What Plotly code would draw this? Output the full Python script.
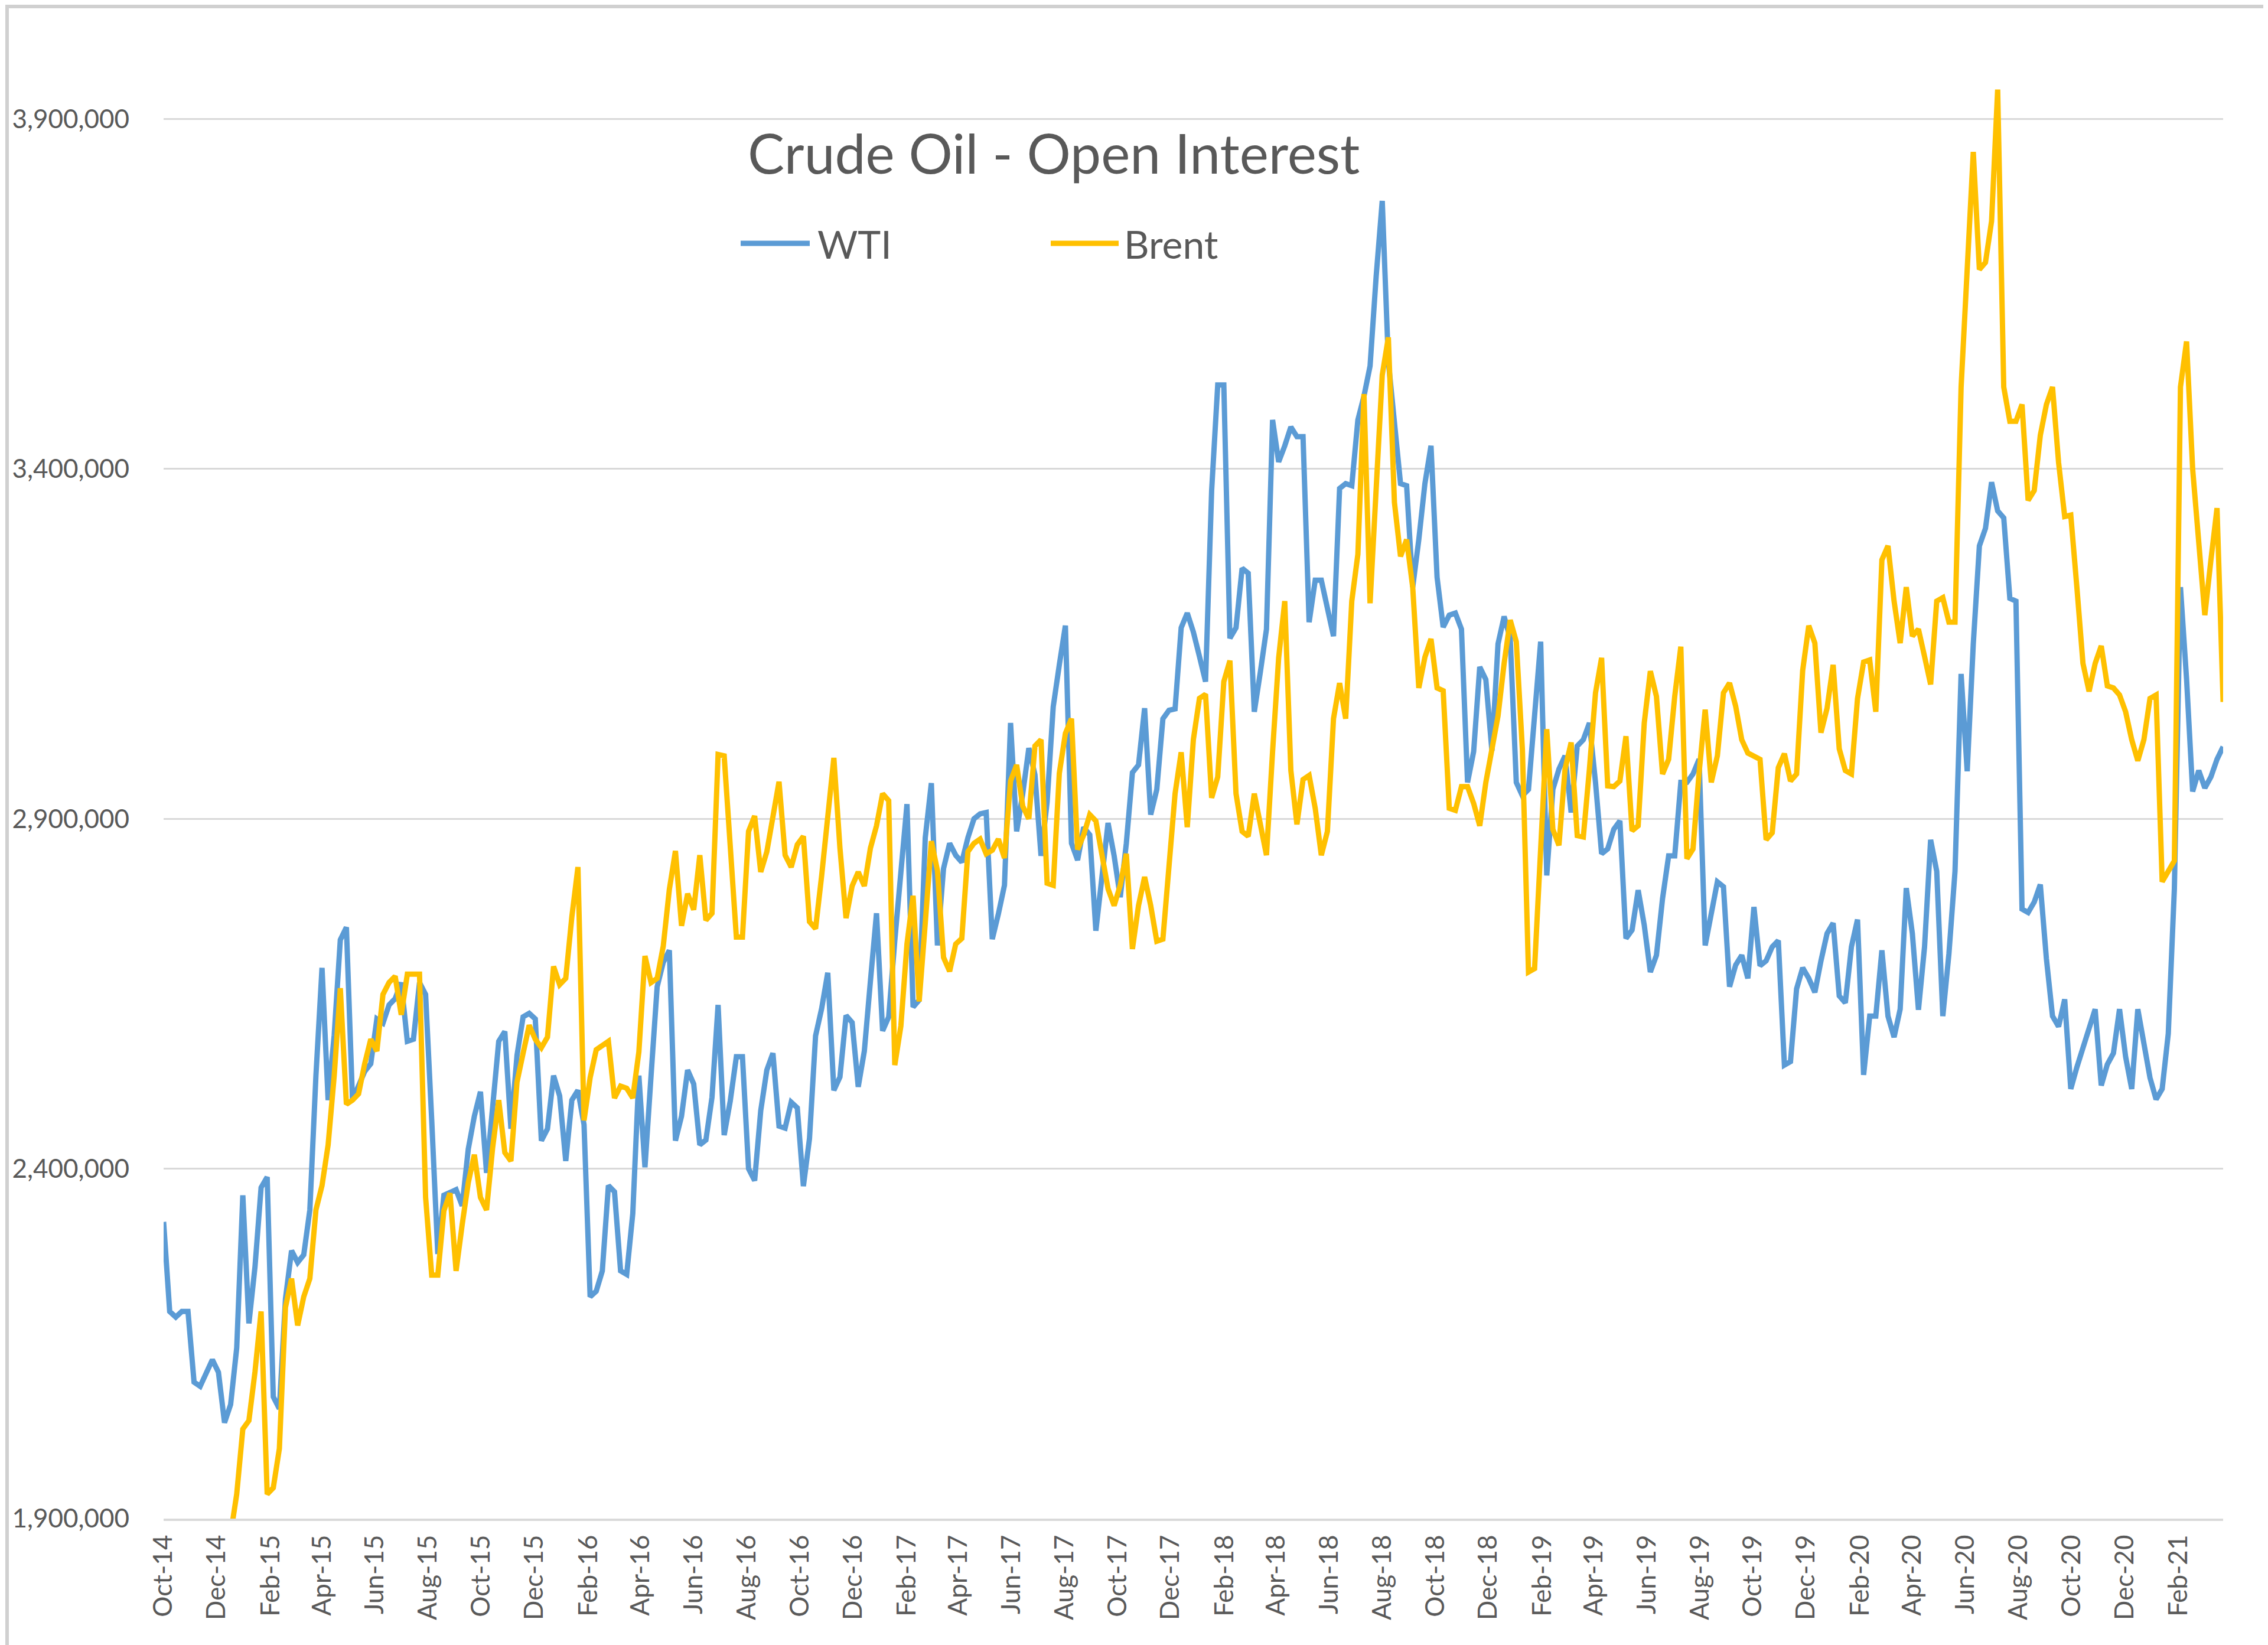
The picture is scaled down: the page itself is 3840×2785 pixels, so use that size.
import pandas as pd
import plotly.graph_objects as go

# ---------------- data (thousands of contracts, weekly from 2014-10-07) ----------------
wti_k = [
    2324, 2196, 2188, 2196, 2196, 2095, 2089, 2109, 2127, 2109,
    2037, 2063, 2144, 2362, 2179, 2260, 2373, 2388, 2074, 2057,
    2214, 2283, 2266, 2277, 2341, 2533, 2687, 2498, 2591, 2727,
    2745, 2498, 2521, 2539, 2550, 2614, 2608, 2634, 2643, 2666,
    2582, 2585, 2666, 2649, 2470, 2278, 2362, 2367, 2370, 2347,
    2428, 2475, 2510, 2394, 2486, 2582, 2596, 2457, 2562, 2617,
    2622, 2614, 2440, 2457, 2533, 2504, 2411, 2498, 2512, 2463,
    2217, 2225, 2254, 2376, 2367, 2254, 2249, 2336, 2533, 2402,
    2533, 2660, 2695, 2712, 2440, 2475, 2541, 2521, 2434, 2441,
    2502, 2634, 2448, 2497, 2560, 2560, 2400, 2383, 2483, 2541,
    2565, 2461, 2458, 2495, 2487, 2375, 2443, 2590, 2629, 2680,
    2512, 2531, 2619, 2609, 2517, 2568, 2668, 2765, 2597, 2617,
    2726, 2819, 2921, 2631, 2641, 2873, 2951, 2719, 2829, 2865,
    2848, 2838, 2873, 2900, 2907, 2909, 2728, 2764, 2805, 3037,
    2882, 2936, 3001, 2963, 2847, 2924, 3060, 3120, 3176, 2865,
    2841, 2888, 2877, 2740, 2817, 2894, 2847, 2788, 2865, 2966,
    2977, 3058, 2906, 2942, 3043, 3055, 3057, 3173, 3194, 3167,
    3132, 3096, 3369, 3520, 3520, 3158, 3173, 3258, 3251, 3053,
    3110, 3171, 3470, 3410, 3433, 3460, 3446, 3446, 3181, 3241,
    3241, 3201, 3161, 3372, 3379, 3376, 3470, 3504, 3547, 3675,
    3783, 3554, 3460, 3379, 3376, 3231, 3299, 3379, 3433, 3245,
    3174, 3191, 3194, 3171, 2952, 2996, 3117, 3099, 2997, 3150,
    3189, 3158, 2952, 2933, 2942, 3050, 3153, 2819, 2942, 2971,
    2990, 2909, 3004, 3013, 3037, 2952, 2850, 2857, 2885, 2897,
    2729, 2741, 2798, 2748, 2681, 2705, 2786, 2847, 2847, 2952,
    2952, 2964, 2985, 2719, 2767, 2810, 2803, 2660, 2691, 2705,
    2672, 2774, 2690, 2697, 2717, 2726, 2548, 2553, 2657, 2687,
    2672, 2652, 2697, 2736, 2751, 2647, 2637, 2717, 2756, 2534,
    2618, 2618, 2712, 2618, 2588, 2628, 2801, 2736, 2627, 2717,
    2870, 2825, 2618, 2707, 2825, 3107, 2968, 3150, 3290, 3315,
    3381, 3340, 3330, 3215, 3211, 2771, 2766, 2781, 2806, 2700,
    2618, 2603, 2642, 2514, 2545, 2573, 2600, 2628, 2519, 2549,
    2565, 2628, 2560, 2514, 2628, 2578, 2530, 2499, 2514, 2593,
    2800, 3231, 3100, 2939, 2969, 2944, 2960, 2985, 3003,
]

brent_k = [
    None, None, None, None, None, None, None, None, None, None,
    1820, 1880, 1935, 2028, 2040, 2110, 2196, 1935, 1944, 2000,
    2202, 2243, 2176, 2217, 2243, 2341, 2376, 2434, 2533, 2658,
    2492, 2498, 2507, 2550, 2585, 2568, 2649, 2666, 2675, 2620,
    2678, 2678, 2678, 2359, 2248, 2248, 2340, 2365, 2254, 2320,
    2380, 2420, 2359, 2341, 2430, 2498, 2423, 2411, 2524, 2565,
    2605, 2585, 2573, 2588, 2689, 2663, 2672, 2760, 2831, 2469,
    2530, 2570, 2575, 2582, 2501, 2518, 2515, 2501, 2567, 2704,
    2666, 2672, 2718, 2799, 2854, 2747, 2793, 2770, 2848, 2755,
    2765, 2992, 2990, 2869, 2731, 2731, 2882, 2904, 2824, 2853,
    2902, 2953, 2848, 2831, 2863, 2875, 2753, 2743, 2819, 2902,
    2987, 2858, 2758, 2804, 2824, 2804, 2858, 2890, 2936, 2926,
    2548, 2604, 2721, 2790, 2639, 2751, 2868, 2826, 2702, 2682,
    2721, 2729, 2853, 2865, 2871, 2850, 2855, 2871, 2844, 2954,
    2977, 2918, 2900, 3004, 3013, 2808, 2805, 2965, 3022, 3043,
    2856, 2877, 2906, 2897, 2847, 2800, 2776, 2805, 2850, 2714,
    2776, 2817, 2776, 2725, 2728, 2835, 2936, 2995, 2888, 3013,
    3072, 3078, 2930, 2960, 3096, 3126, 2936, 2882, 2875, 2936,
    2888, 2848, 2996, 3130, 3211, 2969, 2892, 2956, 2962, 2915,
    2848, 2882, 3043, 3094, 3043, 3211, 3278, 3507, 3208, 3366,
    3534, 3588, 3352, 3275, 3299, 3231, 3087, 3131, 3157, 3087,
    3083, 2915, 2912, 2946, 2946, 2922, 2890, 2952, 3004, 3047,
    3122, 3184, 3153, 2999, 2681, 2686, 2857, 3028, 2885, 2862,
    2971, 3009, 2876, 2874, 2971, 3080, 3130, 2947, 2946, 2954,
    3018, 2883, 2890, 3037, 3111, 3075, 2964, 2985, 3075, 3146,
    2843, 2857, 2966, 3056, 2952, 2990, 3080, 3094, 3061, 3013,
    2994, 2990, 2985, 2870, 2880, 2973, 2993, 2954, 2964, 3112,
    3176, 3151, 3023, 3058, 3120, 3000, 2969, 2964, 3072, 3124,
    3127, 3053, 3270, 3290, 3211, 3151, 3231, 3161, 3171, 3132,
    3092, 3211, 3216, 3181, 3181, 3517, 3705, 3853, 3685, 3695,
    3754, 3942, 3517, 3468, 3468, 3492, 3355, 3369, 3448, 3492,
    3517, 3409, 3332, 3334, 3231, 3122, 3082, 3122, 3147, 3090,
    3087, 3077, 3053, 3013, 2983, 3013, 3072, 3077, 2810, 2825,
    2840, 3517, 3582, 3400, 3300, 3191, 3270, 3344, 3067,
]

series_names = ["WTI", "Brent"]
y_ticks = [1900000, 2400000, 2900000, 3400000, 3900000]
title_text = "Crude Oil - Open Interest"

dates = pd.date_range("2014-10-07", periods=len(wti_k), freq="7D")
wti = [v * 1000 for v in wti_k]
brent = [None if v is None else v * 1000 for v in brent_k]

# ---------------- layout geometry (pixels) ----------------
W, H = 3840, 2785
PL, PR, PT, PB = 269, 3756, 12, 2563
Y_MIN = 1900000
Y_MAX = 3900000 + (193.5 - PT) * (500000 / 592.5)

BLUE = "#5B9BD5"
GOLD = "#FFC000"
GREY = "#595959"
GRID = "#D9D9D9"
FONT = "Lato, 'Open Sans', 'Liberation Sans', sans-serif"


def px_x(x):
    return (x - PL) / (PR - PL)


def px_y(y):
    return (PB - y) / (PB - PT)


fig = go.Figure()
fig.add_trace(go.Scatter(x=dates, y=wti, mode="lines", name=series_names[0],
                         line=dict(color=BLUE, width=9), connectgaps=False))
fig.add_trace(go.Scatter(x=dates, y=brent, mode="lines", name=series_names[1],
                         line=dict(color=GOLD, width=9), connectgaps=False))

fig.update_layout(
    width=W, height=H,
    margin=dict(l=PL, r=W - PR, t=PT, b=H - PB, pad=0),
    paper_bgcolor="white", plot_bgcolor="white",
    showlegend=False,
    font=dict(family=FONT, color=GREY),
    xaxis=dict(
        type="date",
        range=[dates[0], dates[-1]],
        tick0="2014-10-07", dtick="M2", tickformat="%b-%y",
        tickangle=-90,
        tickfont=dict(size=44, color=GREY, family=FONT),
        showgrid=False, zeroline=False,
        showline=True, linecolor=GRID, linewidth=4,
        ticks="", ticklabelstandoff=6,
    ),
    yaxis=dict(
        range=[Y_MIN, Y_MAX],
        tickvals=y_ticks, tickformat=",d",
        tickfont=dict(size=44, color=GREY, family=FONT),
        showgrid=True, gridcolor=GRID, gridwidth=3,
        zeroline=False, showline=False,
        ticks="", ticklabelstandoff=57,
    ),
)

# title
fig.add_annotation(
    text=title_text, xref="paper", yref="paper",
    x=px_x(1776), y=px_y(250), xanchor="center", yanchor="middle",
    showarrow=False, font=dict(size=93, color=GREY, family=FONT),
)

# legend (drawn manually to match long line samples)
legend_items = [(series_names[0], BLUE, 1246, 1363, 1374),
                (series_names[1], GOLD, 1771, 1886, 1893)]
LEG_Y = 404
for name, col, x0, x1, xt in legend_items:
    fig.add_shape(type="line", xref="paper", yref="paper",
                  x0=px_x(x0), x1=px_x(x1), y0=px_y(LEG_Y), y1=px_y(LEG_Y),
                  line=dict(color=col, width=9))
    fig.add_annotation(text=name, xref="paper", yref="paper",
                       x=px_x(xt), y=px_y(LEG_Y), xanchor="left", yanchor="middle",
                       showarrow=False, font=dict(size=66, color=GREY, family=FONT))

# outer chart border
fig.add_shape(type="rect", xref="paper", yref="paper",
              x0=px_x(4), x1=px_x(3832), y0=px_y(2781), y1=px_y(3),
              line=dict(color="#D0D0D0", width=6), fillcolor="rgba(0,0,0,0)",
              layer="below")

fig.write_html("out.html")
